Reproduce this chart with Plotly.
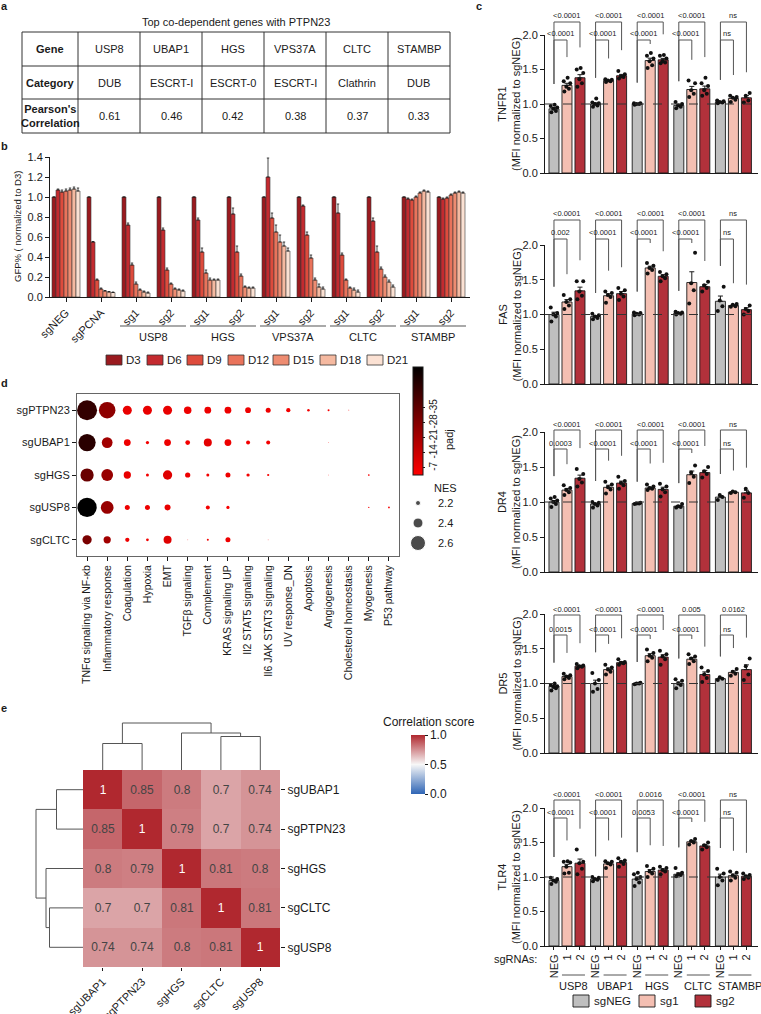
import numpy as np
import plotly.graph_objects as go

W, H = 761, 1014
FONT = "Liberation Sans, Arial, Helvetica, sans-serif"
INK = "#1a1a1a"

# ---------------- panel a data ----------------
tbl_title = "Top co-dependent genes with PTPN23"
tbl_row_heads = ["Gene", "Category", "Pearson's<br>Correlation"]
tbl_genes = ["USP8", "UBAP1", "HGS", "VPS37A", "CLTC", "STAMBP"]
tbl_category = ["DUB", "ESCRT-I", "ESCRT-0", "ESCRT-I", "Clathrin", "DUB"]
tbl_pearson = [0.61, 0.46, 0.42, 0.38, 0.37, 0.33]

# ---------------- panel b data ----------------
b_groups = ["sgNEG", "sgPCNA", "sg1", "sg2", "sg1", "sg2", "sg1", "sg2", "sg1", "sg2", "sg1", "sg2"]
b_genes = ["USP8", "HGS", "VPS37A", "CLTC", "STAMBP"]
b_days = ["D3", "D6", "D9", "D12", "D15", "D18", "D21"]
b_colors = ["#9a1a1f", "#c42a2f", "#de4b3c", "#e9735b", "#ee8c71", "#f5b9a0", "#fbe1d3"]
b_D3 = [1.0, 1.0, 1.0, 1.0, 1.0, 1.0, 1.0, 1.0, 1.0, 1.0, 1.0, 1.0]
b_D6 = [1.07, 0.55, 0.72, 0.67, 0.77, 0.83, 1.20, 0.91, 0.84, 0.76, 0.98, 0.98]
b_D9 = [1.05, 0.17, 0.32, 0.27, 0.45, 0.45, 0.79, 0.62, 0.42, 0.45, 0.97, 0.99]
b_D12 = [1.06, 0.08, 0.13, 0.13, 0.24, 0.21, 0.65, 0.39, 0.17, 0.28, 1.00, 1.02]
b_D15 = [1.07, 0.06, 0.07, 0.08, 0.17, 0.10, 0.55, 0.17, 0.09, 0.20, 1.04, 1.04]
b_D18 = [1.08, 0.05, 0.05, 0.07, 0.17, 0.09, 0.51, 0.10, 0.07, 0.15, 1.06, 1.05]
b_D21 = [1.06, 0.045, 0.04, 0.06, 0.17, 0.09, 0.46, 0.08, 0.05, 0.10, 1.05, 1.04]
b_E3 = [0, 0, 0, 0, 0, 0, 0, 0, 0, 0, 0, 0]
b_E6 = [0.01, 0.005, 0.02, 0.02, 0.02, 0.06, 0.19, 0.01, 0.09, 0.03, 0.01, 0.01]
b_E9 = [0.02, 0.01, 0.02, 0.02, 0.04, 0.06, 0.05, 0.03, 0.02, 0.06, 0.01, 0.01]
b_E12 = [0.02, 0.01, 0.02, 0.01, 0.03, 0.02, 0.07, 0.03, 0.01, 0.02, 0.01, 0.01]
b_E15 = [0.02, 0.005, 0.01, 0.01, 0.02, 0.01, 0.07, 0.02, 0.01, 0.02, 0.01, 0.01]
b_E18 = [0.02, 0.005, 0.01, 0.01, 0.01, 0.01, 0.04, 0.03, 0.02, 0.02, 0.01, 0.01]
b_E21 = [0.03, 0.005, 0.01, 0.01, 0.01, 0.01, 0.03, 0.02, 0.02, 0.02, 0.01, 0.01]
b_vals = [b_D3, b_D6, b_D9, b_D12, b_D15, b_D18, b_D21]
b_errs = [b_E3, b_E6, b_E9, b_E12, b_E15, b_E18, b_E21]

# ---------------- panel c data ----------------
c_genes = ["USP8", "UBAP1", "HGS", "CLTC", "STAMBP"]
c_conditions = ["NEG", "1", "2"]
c_cond_names = ["sgNEG", "sg1", "sg2"]
c_colors = ["#bfbfbf", "#f4bfb2", "#b2313b"]
c_markers = ["TNFR1", "FAS", "DR4", "DR5", "TLR4"]

TNFR1_mean = [0.93, 1.27, 1.38, 1.00, 1.34, 1.41, 1.00, 1.63, 1.64, 0.98, 1.21, 1.22, 1.03, 1.08, 1.09]
FAS_mean = [1.00, 1.18, 1.34, 0.97, 1.27, 1.30, 1.01, 1.67, 1.55, 1.02, 1.46, 1.40, 1.19, 1.13, 1.07]
DR4_mean = [1.00, 1.17, 1.34, 0.97, 1.21, 1.27, 0.98, 1.20, 1.18, 0.94, 1.39, 1.42, 1.07, 1.14, 1.13]
DR5_mean = [0.96, 1.10, 1.25, 1.00, 1.20, 1.30, 1.00, 1.40, 1.38, 1.00, 1.35, 1.13, 1.07, 1.16, 1.20]
TLR4_mean = [0.95, 1.15, 1.20, 0.97, 1.19, 1.21, 0.97, 1.08, 1.10, 1.04, 1.51, 1.45, 1.00, 1.02, 1.01]

TNFR1_pts = [[0.88, 0.90, 0.93, 0.95, 0.97, 0.99], [1.18, 1.22, 1.25, 1.30, 1.33, 1.38], [1.25, 1.30, 1.36, 1.45, 1.50, 1.52],
             [0.96, 0.98, 1.00, 1.01, 1.02, 1.08], [1.32, 1.33, 1.34, 1.35, 1.36], [1.37, 1.39, 1.40, 1.43, 1.48],
             [0.99, 1.00, 1.00, 1.01, 1.01], [1.52, 1.56, 1.62, 1.66, 1.70, 1.74], [1.59, 1.60, 1.62, 1.66, 1.70, 1.71],
             [0.94, 0.96, 0.98, 1.00, 1.03], [1.10, 1.15, 1.20, 1.30, 1.34], [1.12, 1.15, 1.20, 1.26, 1.30, 1.38],
             [1.01, 1.02, 1.03, 1.04, 1.05], [1.03, 1.06, 1.09, 1.10, 1.12], [1.02, 1.05, 1.12, 1.16]]
FAS_pts = [[0.90, 0.97, 1.00, 1.02, 1.10], [1.08, 1.13, 1.18, 1.22, 1.28], [1.22, 1.27, 1.33, 1.48, 1.48],
           [0.93, 0.95, 0.97, 0.99, 1.01], [1.17, 1.25, 1.28, 1.31, 1.33], [1.21, 1.26, 1.30, 1.35, 1.38],
           [0.99, 1.00, 1.01, 1.02, 1.03], [1.59, 1.64, 1.67, 1.70, 1.74], [1.48, 1.52, 1.55, 1.58, 1.61],
           [1.00, 1.01, 1.02, 1.03, 1.04], [1.16, 1.35, 1.45, 1.89], [1.33, 1.38, 1.42, 1.47],
           [1.05, 1.12, 1.20, 1.40], [1.11, 1.12, 1.14, 1.15], [1.00, 1.05, 1.08, 1.13]]
DR4_pts = [[0.93, 0.97, 1.00, 1.02, 1.05, 1.07], [1.10, 1.14, 1.17, 1.20, 1.24], [1.22, 1.28, 1.33, 1.40, 1.47],
           [0.92, 0.95, 0.97, 0.99, 1.00], [1.12, 1.18, 1.21, 1.25, 1.29], [1.19, 1.24, 1.27, 1.30, 1.36],
           [0.97, 0.98, 0.98, 0.99], [1.17, 1.19, 1.20, 1.22, 1.25], [1.08, 1.14, 1.18, 1.22, 1.26],
           [0.92, 0.93, 0.94, 0.97], [1.27, 1.36, 1.42, 1.52], [1.35, 1.40, 1.44, 1.50],
           [1.03, 1.07, 1.10], [1.13, 1.14, 1.15], [1.06, 1.13, 1.19]]
DR5_pts = [[0.90, 0.93, 0.95, 0.96, 0.98, 1.00], [1.06, 1.08, 1.10, 1.12, 1.14], [1.22, 1.24, 1.25, 1.26, 1.28],
           [0.88, 0.92, 1.00, 1.05, 1.15], [1.13, 1.17, 1.20, 1.23, 1.27], [1.27, 1.29, 1.30, 1.31, 1.35],
           [0.99, 1.00, 1.00, 1.01], [1.32, 1.37, 1.40, 1.44, 1.49], [1.27, 1.35, 1.39, 1.42, 1.47],
           [0.93, 0.98, 1.00, 1.04, 1.06], [1.28, 1.32, 1.36, 1.39, 1.42], [1.02, 1.08, 1.13, 1.18, 1.23],
           [1.05, 1.07, 1.09], [1.11, 1.14, 1.17, 1.21], [1.05, 1.13, 1.25, 1.36]]
TLR4_pts = [[0.90, 0.93, 0.95, 0.97, 0.99], [1.05, 1.06, 1.15, 1.21, 1.22, 1.23], [1.04, 1.12, 1.20, 1.22, 1.40],
            [0.94, 0.96, 0.97, 0.99, 1.00], [1.13, 1.18, 1.20, 1.22, 1.23], [1.15, 1.19, 1.22, 1.24, 1.27],
            [0.87, 0.92, 0.97, 1.00, 1.04, 1.06], [1.00, 1.05, 1.08, 1.12, 1.16], [1.04, 1.08, 1.10, 1.13, 1.15],
            [1.01, 1.03, 1.04, 1.06, 1.13], [1.47, 1.50, 1.52, 1.55], [1.40, 1.43, 1.46, 1.50],
            [0.88, 0.95, 1.00, 1.05, 1.12], [0.95, 0.99, 1.02, 1.06, 1.08], [0.97, 0.99, 1.01, 1.03, 1.05]]

TNFR1_p_sg1 = ["<0.0001", "<0.0001", "<0.0001", "<0.0001", "ns"]
TNFR1_p_sg2 = ["<0.0001", "<0.0001", "<0.0001", "<0.0001", "ns"]
FAS_p_sg1 = ["0.002", "<0.0001", "<0.0001", "<0.0001", "ns"]
FAS_p_sg2 = ["<0.0001", "<0.0001", "<0.0001", "<0.0001", "ns"]
DR4_p_sg1 = ["0.0003", "<0.0001", "<0.0001", "<0.0001", "ns"]
DR4_p_sg2 = ["<0.0001", "<0.0001", "<0.0001", "<0.0001", "ns"]
DR5_p_sg1 = ["0.0015", "<0.0001", "<0.0001", "<0.0001", "ns"]
DR5_p_sg2 = ["<0.0001", "<0.0001", "<0.0001", "0.005", "0.0162"]
TLR4_p_sg1 = ["<0.0001", "<0.0001", "0.0053", "<0.0001", "ns"]
TLR4_p_sg2 = ["<0.0001", "<0.0001", "0.0016", "<0.0001", "ns"]

c_means = [TNFR1_mean, FAS_mean, DR4_mean, DR5_mean, TLR4_mean]
c_points = [TNFR1_pts, FAS_pts, DR4_pts, DR5_pts, TLR4_pts]
c_p1 = [TNFR1_p_sg1, FAS_p_sg1, DR4_p_sg1, DR5_p_sg1, TLR4_p_sg1]
c_p2 = [TNFR1_p_sg2, FAS_p_sg2, DR4_p_sg2, DR5_p_sg2, TLR4_p_sg2]

# ---------------- panel d data ----------------
d_samples = ["sgPTPN23", "sgUBAP1", "sgHGS", "sgUSP8", "sgCLTC"]
d_pathways = ["TNFα signaling via NF-κb", "Inflammatory response", "Coagulation", "Hypoxia", "EMT",
              "TGFβ signaling", "Complement", "KRAS signaling UP", "Il2 STAT5 signaling",
              "Il6 JAK STAT3 signaling", "UV response_DN", "Apoptosis", "Angiogenesis",
              "Cholesterol homeostasis", "Myogenesis", "P53 pathway"]
N = None
d_nes = [
    [2.80, 2.66, 2.36, 2.36, 2.36, 2.30, 2.27, 2.27, 2.23, 2.20, 2.17, 2.10, 2.08, 2.05, N, N],
    [2.69, 2.43, 2.27, 2.13, 2.27, 2.19, 2.32, 2.27, 2.16, 2.16, N, N, 2.04, N, N, N],
    [2.53, 2.47, 2.29, 2.12, 2.37, 2.21, 2.12, 2.20, 2.13, 2.09, N, N, 2.04, N, 2.07, N],
    [2.77, 2.51, 2.20, 2.20, 2.24, N, 2.16, 2.13, N, N, N, N, N, N, 2.05, 2.07],
    [2.37, 2.29, 2.17, 2.11, 2.32, 2.04, 2.08, 2.20, N, 2.04, N, N, N, N, N, N],
]
d_log10padj = [
    [-44, -26, -8, -8, -8, -7, -7, -7, -7, -7, -6, -6, -5, -4, N, N],
    [-46, -22, -7, -6, -7, -6, -9, -7, -6, -6, N, N, -4, N, N, N],
    [-33, -24, -8, -6, -10, -7, -6, -7, -6, -5, N, N, -4, N, -5, N],
    [-60, -24, -7, -7, -8, N, -6, -5, N, N, N, N, N, N, -5, -5],
    [-30, -22, -7, -6, -10, -4, -6, -7, N, -4, N, N, N, N, N, N],
]
d_faint = [(0, 13), (1, 12), (2, 12), (4, 5), (4, 9)]
d_nes_legend = [2.2, 2.4, 2.6]
d_padj_ticks = [-7, -14, -21, -28, -35]

# ---------------- panel e data ----------------
e_labels = ["sgUBAP1", "sgPTPN23", "sgHGS", "sgCLTC", "sgUSP8"]
e_corr = [[1, 0.85, 0.8, 0.7, 0.74],
          [0.85, 1, 0.79, 0.7, 0.74],
          [0.8, 0.79, 1, 0.81, 0.8],
          [0.7, 0.7, 0.81, 1, 0.81],
          [0.74, 0.74, 0.8, 0.81, 1]]
# linkage: [cluster a, cluster b, height]; leaves 0..4, merged clusters 5..8
e_linkage = [[0, 1, 0.265], [3, 4, 0.335], [2, 6, 0.37], [5, 7, 0.47]]

# ================= helpers =================
shapes, annots = [], []


def fx(p):
    return p / W


def fy(p):
    return 1 - p / H


def dx(a, b):
    return [a / W, b / W]


def dy(top, bot):
    return [1 - bot / H, 1 - top / H]


def pline(x0, y0, x1, y1, color="#444", width=1, dash=None):
    ln = dict(color=color, width=width)
    if dash:
        ln["dash"] = dash
    shapes.append(dict(type="line", xref="paper", yref="paper", x0=fx(x0), y0=fy(y0),
                       x1=fx(x1), y1=fy(y1), line=ln))


def prect(x0, y0, x1, y1, fill, line="#333", width=1):
    shapes.append(dict(type="rect", xref="paper", yref="paper", x0=fx(x0), y0=fy(y0),
                       x1=fx(x1), y1=fy(y1), fillcolor=fill, line=dict(color=line, width=width)))


def ptext(x, y, text, size=11, xa="center", ya="middle", angle=0, color=INK):
    annots.append(dict(xref="paper", yref="paper", x=fx(x), y=fy(y), text=text, showarrow=False,
                       xanchor=xa, yanchor=ya, textangle=angle, borderpad=0,
                       font=dict(size=size, color=color, family=FONT)))


def ax(**kw):
    base = dict(showgrid=False, zeroline=False, automargin=False, linecolor=INK, linewidth=1,
                tickcolor=INK, tickwidth=1, tickfont=dict(size=11, family=FONT, color=INK))
    base.update(kw)
    return base


fig = go.Figure()
lay = {}

# panel labels
for lab, (x, y) in {"a": (4, 6), "b": (4, 146), "c": (479, 6), "d": (4, 383), "e": (4, 708)}.items():
    ptext(x, y, f"<b>{lab}</b>", size=11)

# ================= panel a: table =================
col_edges = [22, 78, 140, 202, 264, 326, 388, 450]
row_edges = [32, 66, 99, 133]
ptext((col_edges[0] + col_edges[-1]) / 2, 22, tbl_title, size=11)
prect(col_edges[0], row_edges[0], col_edges[-1], row_edges[-1], "rgba(0,0,0,0)", line="#333", width=1)
for xe in col_edges[1:-1]:
    pline(xe, row_edges[0], xe, row_edges[-1], color="#333", width=1)
for ye in row_edges[1:-1]:
    pline(col_edges[0], ye, col_edges[-1], ye, color="#333", width=1)
rows_content = [tbl_genes, tbl_category, [f"{v:.2f}" for v in tbl_pearson]]
for r in range(3):
    yc = (row_edges[r] + row_edges[r + 1]) / 2
    ptext((col_edges[0] + col_edges[1]) / 2, yc, f"<b>{tbl_row_heads[r]}</b>", size=11)
    for c in range(6):
        ptext((col_edges[c + 1] + col_edges[c + 2]) / 2, yc, rows_content[r][c], size=11)

# ================= panel b: GFP bars =================
B_X0, B_X1, B_T, B_B = 50, 470, 157, 297
b_rng = [-0.457, 11.543]
lay["xaxis"] = ax(domain=dx(B_X0, B_X1), range=b_rng, tickmode="array", tickvals=list(range(12)),
                  ticktext=b_groups, tickangle=-45, ticks="outside", ticklen=4, showline=True, anchor="y")
lay["yaxis"] = ax(domain=dy(B_T, B_B), range=[0, 1.4], tickmode="array",
                  tickvals=[0, 0.2, 0.4, 0.6, 0.8, 1.0, 1.2, 1.4], tickformat=".1f",
                  ticks="outside", ticklen=4, showline=True, anchor="x")
for d in range(7):
    fig.add_trace(go.Bar(x=list(range(12)), y=b_vals[d], name=b_days[d], xaxis="x", yaxis="y",
                         marker=dict(color=b_colors[d], line=dict(color="#3a3a3a", width=0.6)),
                         error_y=dict(type="data", array=b_errs[d], arrayminus=[0] * 12, symmetric=False,
                                      color=INK, thickness=0.8, width=1.2)))
ptext(17, (B_T + B_B) / 2, "GFP% ( normalized to D3)", size=9.5, angle=-90)


def bx(k):
    return B_X0 + (k - b_rng[0]) * (B_X1 - B_X0) / (b_rng[1] - b_rng[0])


for gi, gene in enumerate(b_genes):
    k1, k2 = 2 + 2 * gi, 3 + 2 * gi
    pline(bx(k1) - 16, 326, bx(k2) + 15, 326, color="#555", width=1.2)
    ptext((bx(k1) + bx(k2)) / 2, 337, gene, size=11)
leg_x = [106, 147, 187, 228, 273, 320, 367]
for d in range(7):
    prect(leg_x[d], 355, leg_x[d] + 16, 365, b_colors[d], line="#333", width=0.8)
    ptext(leg_x[d] + 19, 360, b_days[d], size=11.5, xa="left")

# ================= panel c: MFI bars =================
C_X0, C_X1 = 545, 758
c_rng = [-0.69, 15.69]
c_layout = [  # (top px of 2.0, bottom px of 0.0, upper bracket px, lower bracket px)
    (35, 173, 22, 40), (245, 384, 220, 239), (432, 572, 430, 449),
    (614, 753, 615, 635), (808, 946, 800, 818)]
c_x = [g * 3.2 + j for g in range(5) for j in range(3)]
offs = [-0.2, 0.15, -0.05, 0.25, -0.25, 0.05]


def cx(x):
    return C_X0 + (x - c_rng[0]) * (C_X1 - C_X0) / (c_rng[1] - c_rng[0])


for i, mk in enumerate(c_markers):
    n = i + 2
    top, bot, yu, yl = c_layout[i]
    last = (i == 4)
    lay[f"xaxis{n}"] = ax(domain=dx(C_X0, C_X1), range=c_rng, showline=True, anchor=f"y{n}",
                          tickmode="array", tickvals=c_x, ticktext=c_conditions * 5,
                          showticklabels=last, ticks="outside" if last else "", ticklen=3, tickangle=-90)
    lay[f"yaxis{n}"] = ax(domain=dy(top, bot), range=[0, 2.0], tickmode="array",
                          tickvals=[0, 0.5, 1.0, 1.5, 2.0], tickformat=".1f", ticks="outside",
                          ticklen=4, showline=True, anchor=f"x{n}")
    pts = c_points[i]
    sem = [float(np.std(p, ddof=1) / np.sqrt(len(p))) for p in pts]
    fig.add_trace(go.Bar(x=c_x, y=c_means[i], width=0.77, xaxis=f"x{n}", yaxis=f"y{n}",
                         marker=dict(color=c_colors * 5, line=dict(color=INK, width=0.9)),
                         error_y=dict(type="data", array=sem, arrayminus=[0] * 15, symmetric=False,
                                      color=INK, thickness=1, width=2.5)))
    px_, py_ = [], []
    for b in range(15):
        for q, v in enumerate(pts[b]):
            px_.append(c_x[b] + offs[q % len(offs)])
            py_.append(v)
    fig.add_trace(go.Scatter(x=px_, y=py_, mode="markers", xaxis=f"x{n}", yaxis=f"y{n}",
                             marker=dict(size=4, color="#111", symbol="circle"), cliponaxis=False))
    shapes.append(dict(type="line", xref=f"x{n}", yref=f"y{n}", x0=c_rng[0], x1=c_rng[1], y0=1, y1=1,
                       line=dict(color="#333", width=1, dash="dash")))
    ptext(509, (top + bot) / 2, f"{mk}<br>(MFI normalized to sgNEG)", size=11, angle=-90)

    def vy(v):
        return bot - v * (bot - top) / 2.0

    for g in range(5):
        b0, b1, b2 = 3 * g, 3 * g + 1, 3 * g + 2
        for (bt, yline, ptxt) in [(b1, yl, c_p1[i][g]), (b2, yu, c_p2[i][g])]:
            xa_, xb_ = cx(c_x[b0]), cx(c_x[bt])
            leg0 = max(vy(max(pts[b0]) + 0.3), yline + 4)
            leg1 = max(vy(max(pts[bt]) + 0.3), yline + 4)
            pline(xa_, yline, xb_, yline, color="#555", width=1)
            pline(xa_, yline, xa_, leg0, color="#555", width=1)
            pline(xb_, yline, xb_, leg1, color="#555", width=1)
            ptext((xa_ + xb_) / 2, yline - 6, ptxt, size=7.5, color="#222")

# TLR4 bottom annotations
ptext(538, 959, "sgRNAs:", size=11, xa="right")
for g, gene in enumerate(c_genes):
    x1, x2 = cx(c_x[3 * g + 1]), cx(c_x[3 * g + 2])
    pline(x1 - 5, 975, x2 + 5, 975, color="#555", width=1)
    ptext((x1 + x2) / 2, 986, gene, size=11)
c_leg_x = [573, 639, 695]
for j in range(3):
    prect(c_leg_x[j], 995, c_leg_x[j] + 16, 1007, c_colors[j], line=INK, width=0.9)
    ptext(c_leg_x[j] + 20, 1001, c_cond_names[j], size=11.5, xa="left")

# ================= panel d: GSEA dot plot =================
D_X0, D_X1, D_T, D_B = 77, 399, 394, 556
lay["xaxis7"] = ax(domain=dx(D_X0, D_X1), range=[-0.5, 15.5], tickmode="array", tickvals=list(range(16)),
                   ticktext=d_pathways, tickangle=-90, ticks="outside", ticklen=4, showline=True,
                   mirror=True, linecolor="#666", tickfont=dict(size=10.5, family=FONT, color=INK), anchor="y7")
lay["yaxis7"] = ax(domain=dy(D_T, D_B), range=[4.5, -0.5], tickmode="array", tickvals=list(range(5)),
                   ticktext=d_samples, ticks="outside", ticklen=4, showline=True, mirror=True,
                   linecolor="#666", anchor="x7")
dxs, dys, dsz, dcol, dop = [], [], [], [], []
for r in range(5):
    for c in range(16):
        if d_nes[r][c] is None:
            continue
        dxs.append(c)
        dys.append(r)
        dsz.append(25 * (d_nes[r][c] - 2.0))
        dcol.append(-d_log10padj[r][c])
        dop.append(0.4 if (r, c) in d_faint else 1.0)
fig.add_trace(go.Scatter(
    x=dxs, y=dys, mode="markers", xaxis="x7", yaxis="y7",
    marker=dict(size=dsz, color=dcol, opacity=dop, colorscale=[[0, "#ff0000"], [1, "#000000"]],
                cmin=3.7, cmax=54, line=dict(width=0), showscale=True,
                colorbar=dict(x=fx(413), xanchor="left", xpad=0, y=fy(421), yanchor="middle", ypad=0,
                              lenmode="pixels", len=108, thickness=10, thicknessmode="pixels",
                              tickmode="array", tickvals=[-t for t in d_padj_ticks],
                              ticktext=[str(t) for t in d_padj_ticks], tickangle=-90,
                              ticks="outside", ticklen=2, tickcolor=INK,
                              tickfont=dict(size=10, family=FONT, color=INK),
                              outlinewidth=1, outlinecolor=INK))))
ptext(449, 440, "padj", size=11, angle=-90)
ptext(445, 488, "NES", size=11)

# pixel overlay axis (for legend glyphs)
lay["xaxis11"] = dict(domain=[0, 1], range=[0, W], visible=False, anchor="y11", fixedrange=True)
lay["yaxis11"] = dict(domain=[0, 1], range=[H, 0], visible=False, anchor="x11", fixedrange=True)
nes_leg_y = [503, 523, 543]
fig.add_trace(go.Scatter(x=[418] * 3, y=nes_leg_y, mode="markers", xaxis="x11", yaxis="y11",
                         marker=dict(size=[25 * (v - 2.0) for v in d_nes_legend], color="#000"),
                         cliponaxis=False, hoverinfo="skip"))
for v, yy in zip(d_nes_legend, nes_leg_y):
    ptext(437, yy, f"{v:.1f}", size=11, xa="left")

# ================= panel e: clustered heatmap =================
E_X0, E_X1, E_T, E_B = 83, 280, 770, 967
lay["xaxis8"] = ax(domain=dx(E_X0, E_X1), range=[-0.5, 4.5], tickmode="array", tickvals=list(range(5)),
                   ticktext=e_labels, tickangle=-45, ticks="outside", ticklen=3, showline=False,
                   tickfont=dict(size=11, family=FONT, color=INK), anchor="y8")
lay["yaxis8"] = ax(domain=dy(E_T, E_B), range=[4.5, -0.5], tickmode="array", tickvals=list(range(5)),
                   ticktext=e_labels, side="right", ticks="outside", ticklen=4, showline=False,
                   tickfont=dict(size=12, family=FONT, color=INK), anchor="x8")
fig.add_trace(go.Heatmap(
    z=e_corr, x=list(range(5)), y=list(range(5)), xaxis="x8", yaxis="y8", zmin=0, zmax=1,
    colorscale=[[0, "#2f65b5"], [0.5, "#f7f7f7"], [1, "#b0282f"]],
    texttemplate="%{z}", textfont=dict(size=12, family=FONT), xgap=0, ygap=0,
    colorbar=dict(x=fx(411), xanchor="left", xpad=0, y=fy(764.5), yanchor="middle", ypad=0,
                  lenmode="pixels", len=59, thickness=14, thicknessmode="pixels",
                  tickmode="array", tickvals=[0, 0.5, 1.0], ticktext=["0.0", "0.5", "1.0"],
                  ticks="outside", ticklen=3, tickcolor=INK,
                  tickfont=dict(size=12, family=FONT, color=INK), outlinewidth=0)))
ptext(429, 722, "Correlation score", size=12)

# dendrograms
pos = {k: float(k) for k in range(5)}
hgt = {k: 0.0 for k in range(5)}
seg_p, seg_h = [], []
for m, (a, b, h) in enumerate(e_linkage):
    seg_p += [pos[a], pos[a], pos[b], pos[b], None]
    seg_h += [hgt[a], h, h, hgt[b], None]
    pos[5 + m] = (pos[a] + pos[b]) / 2
    hgt[5 + m] = h
lay["xaxis9"] = dict(domain=dx(E_X0, E_X1), range=[-0.5, 4.5], visible=False, anchor="y9")
lay["yaxis9"] = dict(domain=dy(715, E_T), range=[0, 0.55], visible=False, anchor="x9")
lay["xaxis10"] = dict(domain=dx(28, E_X0), range=[0.55, 0], visible=False, anchor="y10")
lay["yaxis10"] = dict(domain=dy(E_T, E_B), range=[4.5, -0.5], visible=False, anchor="x10")
fig.add_trace(go.Scatter(x=seg_p, y=seg_h, mode="lines", xaxis="x9", yaxis="y9",
                         line=dict(color="#555", width=1), cliponaxis=False, hoverinfo="skip"))
fig.add_trace(go.Scatter(x=seg_h, y=seg_p, mode="lines", xaxis="x10", yaxis="y10",
                         line=dict(color="#555", width=1), cliponaxis=False, hoverinfo="skip"))

fig.update_layout(
    template="none", width=W, height=H, autosize=False, margin=dict(l=0, r=0, t=0, b=0),
    paper_bgcolor="white", plot_bgcolor="rgba(0,0,0,0)", showlegend=False,
    font=dict(family=FONT, size=11, color=INK), barmode="group", bargap=0.2, bargroupgap=0,
    shapes=shapes, annotations=annots, **lay)
fig.write_html("out.html", config={"displayModeBar": False},
               post_script="document.body.style.margin='0';document.body.style.overflow='hidden';")
